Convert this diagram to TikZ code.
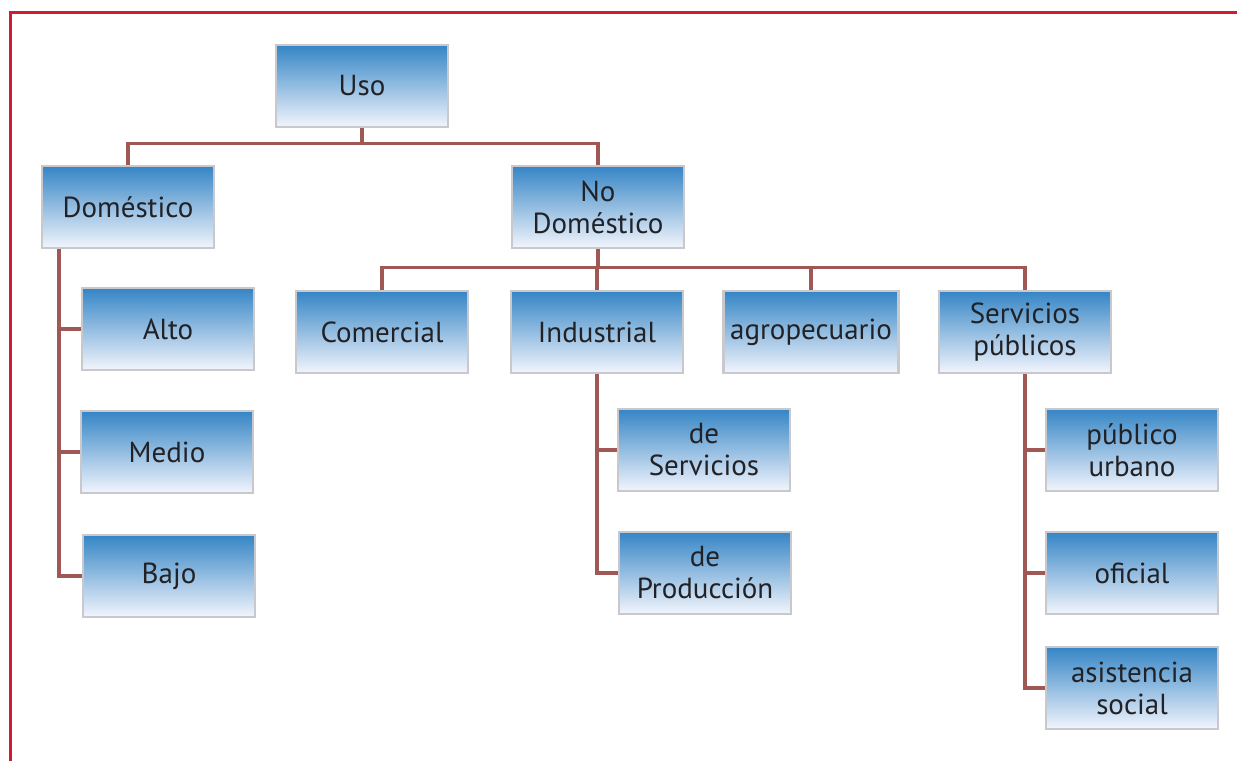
\documentclass[tikz,border=0pt]{standalone}
\usepackage{fontspec}
\setmainfont{PT Sans}
\usepackage{xcolor}
\usetikzlibrary{positioning}
\definecolor{boxtop}{RGB}{53,133,198}
\definecolor{boxbottom}{RGB}{242,245,252}
\definecolor{boxgray}{RGB}{200,200,205}
\definecolor{linkred}{RGB}{160,88,84}
\definecolor{framered}{RGB}{205,28,52}
\definecolor{txt}{RGB}{34,34,38}

\begin{document}
\begin{tikzpicture}[x=0.5pt,y=-0.5pt]
\tikzset{box/.style = {shape=rectangle,draw=boxgray,line width=1.2pt,top color=boxtop,bottom color=boxbottom,minimum width=86pt,minimum height=41pt,align=center,text=txt,font=\fontsize{14.5}{16}\selectfont}}
\tikzset{link/.style = {draw=linkred,line width=1.6pt}}
\useasboundingbox (0,0) rectangle (1237,761);
\draw[framered,line width=1.5pt] (1237,12) -- (10,12) -- (10,761);
\node[box] (uso) at (362,86) {Uso};
\node[box] (dom) at (128,207) {Doméstico};
\node[box] (nodom) at (598,207) {No\\Doméstico};
\node[box] (alto) at (168,329) {Alto};
\node[box] (medio) at (167,452) {Medio};
\node[box] (bajo) at (169,576) {Bajo};
\node[box] (com) at (382,332) {Comercial};
\node[box] (ind) at (597,332) {Industrial};
\node[box] (agro) at (811,332) {agropecuario};
\node[box] (serv) at (1025,332) {Servicios\\públicos};
\node[box] (desrv) at (704,450) {de\\Servicios};
\node[box] (deprod) at (705,573) {de\\Producción};
\node[box] (purb) at (1132,450) {público\\urbano};
\node[box] (ofi) at (1132,573) {oficial};
\node[box] (asis) at (1132,688) {asistencia\\social};
\coordinate (domtrunk) at (59,249);
\draw[link] (uso.south) -- ++(0,15) -| (dom.north);
\draw[link] (uso.south) -- ++(0,15) -| (nodom.north);
\draw[link] (nodom.south) -- ++(0,18) -| (com.north);
\draw[link] (nodom.south) -- ++(0,18) -| (ind.north);
\draw[link] (nodom.south) -- ++(0,18) -| (agro.north);
\draw[link] (nodom.south) -- ++(0,18) -| (serv.north);
\draw[link] (domtrunk) |- (alto.west);
\draw[link] (domtrunk) |- (medio.west);
\draw[link] (domtrunk) |- (bajo.west);
\draw[link] (ind.south) |- (desrv.west);
\draw[link] (ind.south) |- (deprod.west);
\draw[link] (serv.south) |- (purb.west);
\draw[link] (serv.south) |- (ofi.west);
\draw[link] (serv.south) |- (asis.west);
\end{tikzpicture}
\end{document}
